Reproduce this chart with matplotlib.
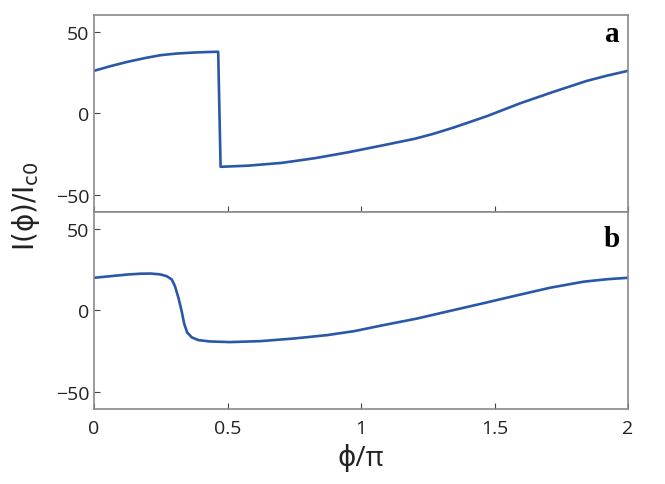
import numpy as np
import matplotlib
matplotlib.use('Agg')
import matplotlib.pyplot as plt

# values (phi in units of pi, current in I_c0)
phi_a = [0.0, 0.06, 0.125, 0.19, 0.25, 0.31, 0.375, 0.42, 0.465, 0.474,
         0.578, 0.703, 0.828, 0.952, 1.077, 1.202, 1.271, 1.346, 1.471,
         1.596, 1.72, 1.845, 1.92, 2.0]
cur_a = [26.0, 28.8, 31.5, 33.8, 35.6, 36.6, 37.2, 37.5, 37.7, -32.8,
         -32.1, -30.4, -27.5, -23.9, -19.8, -15.6, -12.6, -8.8, -1.8,
         6.1, 13.1, 19.8, 23.0, 26.0]

phi_b = [0.0, 0.125, 0.172, 0.212, 0.247, 0.272, 0.291, 0.303, 0.316, 0.328,
         0.338, 0.349, 0.366, 0.391, 0.434, 0.509, 0.624, 0.749, 0.874, 0.974,
         1.084, 1.209, 1.333, 1.458, 1.583, 1.708, 1.833, 1.92, 2.0]
cur_b = [19.9, 21.9, 22.4, 22.5, 22.0, 20.9, 18.9, 14.8, 7.7, -0.4,
         -8.5, -13.6, -16.6, -18.3, -19.1, -19.5, -18.9, -17.3, -15.2, -12.8,
         -9.1, -5.1, -0.4, 4.3, 9.1, 13.8, 17.5, 19.0, 19.9]

xticks = [0, 0.5, 1, 1.5, 2]
xticklabels = ['0', '0.5', '1', '1.5', '2']
yticks = [-50, 0, 50]
yticklabels = ['\u221250', '0', '50']

plt.rcParams['font.family'] = ['Open Sans', 'DejaVu Sans']

line_color = '#2a57a8'
spine_color = '#8a8a8a'

fig = plt.figure(figsize=(6.65, 4.85), dpi=100)
ax_a = fig.add_axes([0.1414, 0.5608, 0.803, 0.4062])
ax_b = fig.add_axes([0.1414, 0.1546, 0.803, 0.4062])

for ax, x, y, tag, ty in [(ax_a, phi_a, cur_a, 'a', 0.87), (ax_b, phi_b, cur_b, 'b', 0.83)]:
    ax.plot(x, y, color=line_color, linewidth=1.9)
    ax.set_xlim(0, 2)
    ax.set_ylim(-60.5, 60.2)
    ax.set_xticks(xticks)
    ax.set_yticks(yticks)
    ax.set_yticklabels(yticklabels)
    for s in ax.spines.values():
        s.set_color(spine_color)
        s.set_linewidth(1.2)
    ax.tick_params(direction='in', length=4, width=0.8, color='#444444',
                   labelsize=14, labelcolor='#222222', top=False, right=False)
    ax.tick_params(axis='x', pad=7)
    ax.text(0.985, ty, tag, transform=ax.transAxes,
            ha='right', va='baseline', family='Liberation Serif',
            fontweight='bold', fontsize=21)

ax_a.tick_params(labelbottom=False)
ax_b.set_xticklabels(xticklabels)
ax_b.set_xlabel('\u03d5/\u03c0', fontsize=20, labelpad=5, color='#222222')
fig.text(0.039, 0.575, 'I(\u03d5)/I$_{\\rm c0}$', rotation=90,
         ha='center', va='center', fontsize=20, color='#222222',
         family='DejaVu Sans', math_fontfamily='dejavusans')

fig.savefig('out.png', dpi=100)
